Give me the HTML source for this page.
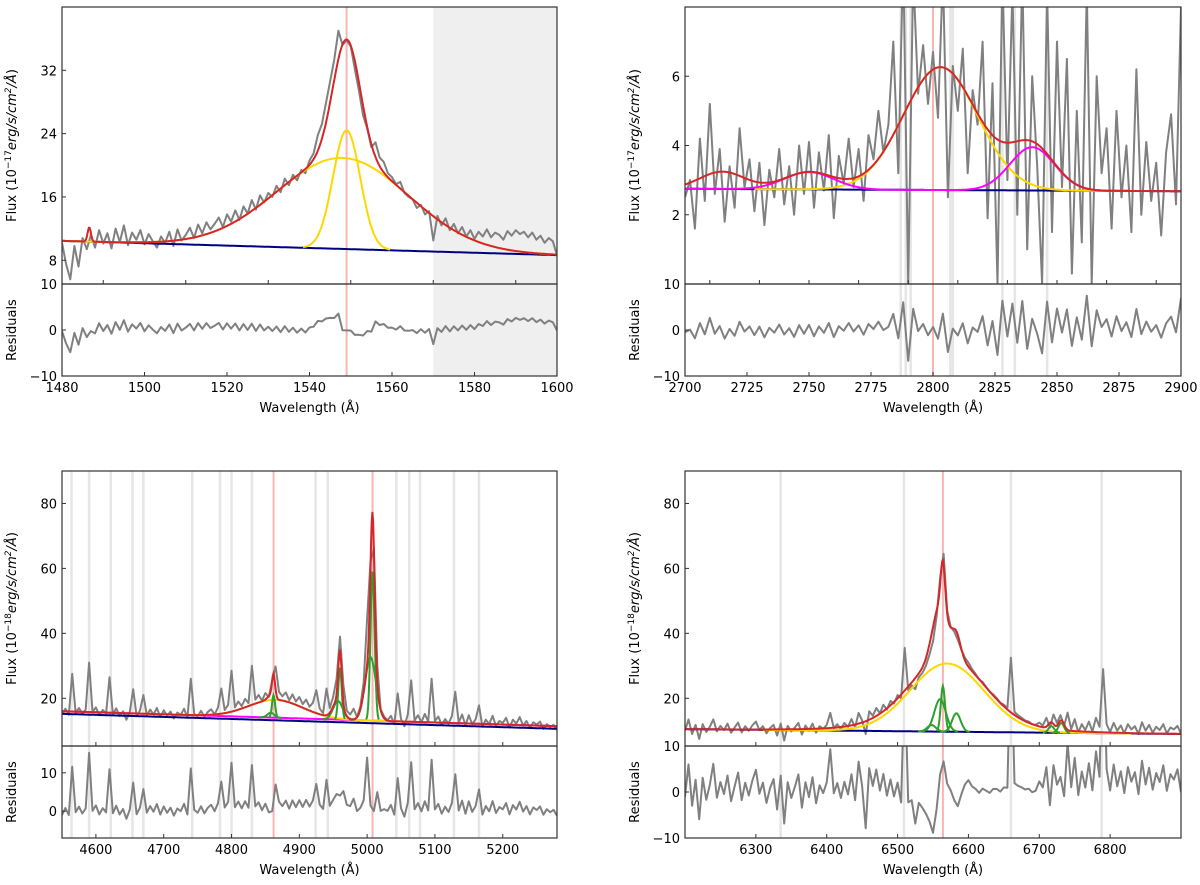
<!DOCTYPE html>
<html><head><meta charset="utf-8"><style>
html,body{margin:0;padding:0;background:#fff;}
svg{display:block;font-family:"DejaVu Sans","Liberation Sans",sans-serif;}
</style></head><body>
<svg id="fig" width="1200" height="885" viewBox="0 0 1200 885" xmlns="http://www.w3.org/2000/svg"></svg>
<script>
// ---------- Panel 1: C IV ----------
const p1Start = 1480, p1Step = 1;
const p1Flux = [10.2,7.5,5.6,9.8,7.2,10.8,9.4,11.2,9.6,11.8,10.1,11.4,9.5,12.0,10.3,12.4,9.9,11.5,10.6,11.8,
10.0,11.3,10.4,9.6,11.0,10.2,11.6,9.8,11.9,10.5,11.2,12.1,10.8,12.5,11.4,12.8,11.9,12.6,13.4,12.2,
13.8,12.9,14.3,13.1,14.8,13.9,15.6,14.4,16.2,15.3,16.5,16.0,17.4,16.6,18.3,17.5,18.8,18.1,19.4,19.0,
20.6,21.5,23.8,25.2,27.9,30.6,33.4,37.0,35.2,35.8,35.0,32.1,29.4,26.3,24.6,22.3,22.9,21.0,20.4,19.0,
18.5,17.6,17.9,16.5,16.0,15.7,14.6,15.0,13.8,14.2,10.5,13.6,12.4,13.3,11.8,12.6,11.4,12.2,11.0,11.8,
10.7,11.6,11.0,11.9,10.9,11.5,11.2,10.6,11.7,11.1,11.8,11.3,11.6,10.9,11.5,10.6,11.1,10.2,10.8,10.4,8.6];
const p1Cont = [10.45, 8.65];
const p1Centers = [1548, 1549, 1486.6];
const p1Amps = [11.5, 15, 1.8];
const p1Sigmas = [16, 3.3, 0.4];
const p1Kinds = ['yellow','yellow','hidden'];
const p1XTicks = [1480,1500,1520,1540,1560,1580,1600];
const p1XTicksMain = [1490,1510,1530,1550,1570,1590];
const p1YTicks = [8,16,24,32];
const p1RTicks = [-10,0,10];

// ---------- Panel 2: Mg II ----------
const p2Start = 2700, p2Step = 2;
const p2Flux = [2.5,3.0,1.6,4.2,2.4,5.2,2.6,3.9,1.8,3.4,2.2,4.5,2.8,3.6,2.1,3.5,1.7,3.3,2.5,3.9,
2.3,3.4,2.0,4.0,2.6,4.1,2.2,3.8,2.7,4.3,1.9,3.7,2.9,4.2,2.8,3.9,2.4,4.3,3.6,5.0,
3.8,4.6,7.0,3.2,9.5,0.0,9.0,5.5,6.9,5.2,6.7,4.8,9.0,2.5,6.3,5.0,6.8,3.2,5.6,4.6,
7.0,1.9,5.8,0.0,9.0,3.0,8.5,2.0,9.0,1.0,6.0,3.4,0.0,8.5,1.5,7.0,2.8,6.5,0.3,5.0,
1.2,8.5,0.0,6.0,3.2,4.5,1.6,5.0,2.5,4.0,1.5,6.2,2.0,4.1,2.4,3.5,1.4,3.8,4.9,2.3,8.0];
const p2Cont = [2.75, 2.68];
const p2Centers = [2803, 2840, 2750, 2715];
const p2Amps = [3.55, 1.25, 0.5, 0.5];
const p2Sigmas = [15, 9, 10, 9];
const p2Kinds = ['yellow','magenta','magenta','hidden'];
const p2XTicks = [2700,2725,2750,2775,2800,2825,2850,2875,2900];
const p2XTicksMain = [2710,2730,2750,2770,2790,2810,2830,2850,2870,2890];
const p2YTicks = [2,4,6];
const p2RTicks = [-10,0,10];
const p2Masks = [2787,2789,2791,2807,2808,2828,2833,2846];

// ---------- Panel 3: H beta ----------
const p3Start = 4550, p3Step = 5;
const p3Flux = [15.0,16.8,14.9,27.5,15.6,17.0,15.2,16.5,31.0,15.8,17.2,14.8,16.4,15.3,26.5,15.0,16.9,14.6,16.0,13.4,
15.8,22.8,14.5,16.2,21.0,14.8,16.5,15.0,17.0,14.2,16.3,14.6,15.9,13.8,15.6,14.9,16.8,14.0,26.0,15.2,
14.4,16.1,14.3,15.8,16.6,15.0,17.2,23.0,16.4,18.0,28.5,17.2,19.0,17.6,19.8,18.5,30.0,19.6,21.0,19.3,
21.6,20.4,25.5,29.8,22.0,20.6,21.8,19.4,21.2,19.0,20.4,18.2,19.6,17.4,18.6,22.5,16.8,15.4,23.0,17.0,
20.5,26.0,39.0,24.0,16.2,15.0,16.8,14.2,17.5,25.0,44.5,62.0,66.0,30.0,16.5,14.4,13.2,14.6,12.0,21.5,
13.6,11.4,15.0,25.5,13.2,14.8,12.6,15.2,12.8,26.0,13.0,14.4,11.8,13.6,12.2,14.5,22.0,12.5,15.0,11.6,
14.8,12.0,13.5,17.8,11.2,13.4,12.0,14.6,11.5,13.0,12.4,14.0,11.0,13.4,12.2,14.2,11.6,13.0,10.8,12.6,
11.9,12.8,10.6,12.0,11.2,11.8,10.2];
const p3Cont = [15.2, 10.6];
const p3Fe = [0.8];
const p3Centers = [4865, 4862, 4858, 4960, 4957, 5008, 5005];
const p3Amps = [5.5, 7, 1.5, 16, 5.7, 46, 19.5];
const p3Sigmas = [40, 2.2, 5, 2.5, 7, 3, 8];
const p3Kinds = ['yellow','green','green','green','green','green','green'];
const p3XTicks = [4600,4700,4800,4900,5000,5100,5200];
const p3YTicks = [20,40,60,80];
const p3RTicks = [0,10];
const p3Masks = [4564,4590,4622,4654,4670,4742,4783,4800,4830,4924,4942,5043,5062,5078,5128,5165];

// ---------- Panel 4: H alpha ----------
const p4Start = 6200, p4Step = 5;
const p4Flux = [10.0,13.5,9.0,11.8,7.5,12.0,9.6,11.2,13.5,9.8,11.5,10.2,12.2,9.4,11.0,12.5,9.5,11.4,10.0,11.6,
12.8,10.2,11.4,9.2,10.8,11.8,8.5,12.2,7.0,11.5,9.8,11.0,12.4,8.8,11.6,10.0,12.2,9.4,11.4,10.6,
11.8,15.5,10.8,12.0,10.5,12.4,11.2,13.6,11.0,15.5,13.2,9.0,16.0,14.6,17.0,15.4,18.0,16.5,19.2,18.4,
21.0,20.0,35.5,22.5,24.0,22.8,26.5,27.8,30.0,33.5,37.5,45.0,57.0,64.5,47.0,42.0,40.5,38.0,35.0,32.5,
31.0,29.0,27.5,25.8,25.0,23.5,22.0,21.2,20.0,18.6,18.0,17.0,32.5,15.8,14.8,14.0,13.2,12.8,12.0,11.8,
12.5,11.6,14.0,11.0,15.0,12.4,14.8,11.5,15.6,10.5,13.6,9.5,12.0,10.2,12.8,9.8,14.0,11.2,29.0,12.0,
9.6,12.4,10.0,11.6,9.2,12.0,10.4,11.4,9.0,12.6,10.0,11.8,9.4,11.2,10.2,12.0,9.2,11.0,10.4,11.5,9.0];
const p4Cont = [10.5, 9.0];
const p4Centers = [6570, 6570, 6564, 6564, 6560, 6583, 6548, 6717, 6731];
const p4Amps = [21, 2, 7, 14, 10, 5.7, 2, 2, 3];
const p4Sigmas = [52, 110, 14, 3, 8, 6, 6, 4, 4];
const p4Kinds = ['yellow','hidden','hidden','green','green','green','green','green','green'];
const p4XTicks = [6300,6400,6500,6600,6700,6800];
const p4YTicks = [20,40,60,80];
const p4RTicks = [-10,0,10];
const p4Masks = [6335,6509,6660,6788];

const NS = 'http://www.w3.org/2000/svg';
const svg = document.getElementById('fig');
const COLORS = {yellow:'#ffd700', magenta:'#ff00ff', green:'#2ca02c'};

function mk(tag, attrs, parent) {
  const e = document.createElementNS(NS, tag);
  for (const k in attrs) e.setAttribute(k, attrs[k]);
  (parent || svg).appendChild(e);
  return e;
}

let clipId = 0;
function panel(P) {
  const g = mk('g', {});
  
  
  const X = l => P.x0 + (l - P.xr[0]) / (P.xr[1] - P.xr[0]) * (P.x1 - P.x0);
  const Y = v => P.ySplit - (v - P.yr[0]) / (P.yr[1] - P.yr[0]) * (P.ySplit - P.yTop);
  const R = v => P.yBot - (v - P.rr[0]) / (P.rr[1] - P.rr[0]) * (P.yBot - P.ySplit);
  const cont = l => P.cont[0] + (P.cont[1] - P.cont[0]) * (l - P.xr[0]) / (P.xr[1] - P.xr[0]);
  const fe = P.fe ? P.fe[0] : 0;
  const gauss = (i, l) => P.amps[i] * Math.exp(-Math.pow(l - P.centers[i], 2) / (2 * P.sigmas[i] * P.sigmas[i]));
  const model = l => { let s = cont(l) + fe; for (let i = 0; i < P.centers.length; i++) s += gauss(i, l); return s; };

  const cm = 'c' + (clipId++), cr = 'c' + (clipId++);
  const defs = mk('defs', {}, g);
  const c1 = mk('clipPath', {id: cm}, defs);
  mk('rect', {x: P.x0, y: P.yTop, width: P.x1 - P.x0, height: P.ySplit - P.yTop}, c1);
  const c2 = mk('clipPath', {id: cr}, defs);
  mk('rect', {x: P.x0, y: P.ySplit, width: P.x1 - P.x0, height: P.yBot - P.ySplit}, c2);

  const gm = mk('g', {'clip-path': 'url(#' + cm + ')'}, g);
  const gr = mk('g', {'clip-path': 'url(#' + cr + ')'}, g);

  if (P.shade) {
    for (const gg of [gm, gr]) {
      const r = mk('rect', {x: X(P.shade[0]), y: P.yTop, width: X(P.shade[1]) - X(P.shade[0]), height: P.yBot - P.yTop, fill: '#efefef'}, gg);
      
      
    }
  }
  (P.masks || []).forEach(m => {
    for (const gg of [gm, gr]) {
      const ln = mk('line', {x1: X(m), x2: X(m), y1: P.yTop, y2: P.yBot, stroke: '#e6e6e6', 'stroke-width': 2.5}, gg);
      
      
    }
  });
  P.refs.forEach(m => {
    for (const gg of [gm, gr]) {
      const ln = mk('line', {x1: X(m), x2: X(m), y1: P.yTop, y2: P.yBot, stroke: '#f7b5b5', 'stroke-width': 2}, gg);
      
      
    }
  });

  let d = '', dr = '';
  P.flux.forEach((v, i) => {
    const l = P.start + i * P.step;
    d += (i ? 'L' : 'M') + X(l).toFixed(1) + ',' + Y(v).toFixed(1);
    dr += (i ? 'L' : 'M') + X(l).toFixed(1) + ',' + R((v - model(l)) * P.rscale).toFixed(1);
  });
  const sp = mk('path', {d: d, fill: 'none', stroke: '#808080', 'stroke-width': 2, 'stroke-linejoin': 'round'}, gm);
  
  

  const N = 700;
  const grid = []; for (let k = 0; k <= N; k++) grid.push(P.xr[0] + (P.xr[1] - P.xr[0]) * k / N);
  const pathOf = (f, lo, hi) => {
    let s = '', first = true;
    grid.forEach(l => { if (l < lo || l > hi) return; s += (first ? 'M' : 'L') + X(l).toFixed(1) + ',' + Y(f(l)).toFixed(1); first = false; });
    return s;
  };
  const cp = mk('path', {d: pathOf(cont, -1e9, 1e9), fill: 'none', stroke: '#000080', 'stroke-width': 2}, gm);
  
  
  if (P.fe) {
    const fp = mk('path', {d: pathOf(l => cont(l) + fe, -1e9, 1e9), fill: 'none', stroke: '#ff00ff', 'stroke-width': 2}, gm);
    
    
  }
  P.kinds.forEach((k, i) => {
    if (k === 'hidden') return;
    const w = (k === 'green' || P.sigmas[i] < 5) ? 3.2 : 5;
    const lo = P.centers[i] - w * P.sigmas[i], hi = P.centers[i] + w * P.sigmas[i];
    const cpth = mk('path', {d: pathOf(l => cont(l) + fe + gauss(i, l), lo, hi), fill: 'none', stroke: COLORS[k], 'stroke-width': 2}, gm);
    
    
  });
  const tp = mk('path', {d: pathOf(model, -1e9, 1e9), fill: 'none', stroke: '#d62728', 'stroke-width': 2}, gm);
  
  
  const rp = mk('path', {d: dr, fill: 'none', stroke: '#808080', 'stroke-width': 2, 'stroke-linejoin': 'round'}, gr);
  
  

  const f1 = mk('rect', {x: P.x0, y: P.yTop, width: P.x1 - P.x0, height: P.ySplit - P.yTop, fill: 'none', stroke: '#333', 'stroke-width': 1.2}, g);
  
  
  const f2 = mk('rect', {x: P.x0, y: P.ySplit, width: P.x1 - P.x0, height: P.yBot - P.ySplit, fill: 'none', stroke: '#333', 'stroke-width': 1.2}, g);
  
  

  const txt = (x, y, s, anchor, name) => {
    const t = mk('text', {x: x, y: y, 'font-size': 13, 'text-anchor': anchor, fill: '#000'}, g);
    t.textContent = s;
    
    
    return t;
  };
  const fmt = v => v < 0 ? '\u2212' + Math.abs(v) : String(v);
  P.xticks.forEach(v => {
    mk('line', {x1: X(v), x2: X(v), y1: P.yBot, y2: P.yBot - 4, stroke: '#333'}, g);
    txt(X(v), P.yBot + 16, fmt(v), 'middle', 'x-tick-label');
  });
  (P.xticksMain || P.xticks).forEach(v => {
    mk('line', {x1: X(v), x2: X(v), y1: P.ySplit, y2: P.ySplit - 4, stroke: '#333'}, g);
  });
  P.yticks.forEach(v => {
    mk('line', {x1: P.x0, x2: P.x0 + 4, y1: Y(v), y2: Y(v), stroke: '#333'}, g);
    txt(P.x0 - 5, Y(v) + 5, fmt(v), 'end', 'y-tick-label');
  });
  P.rticks.forEach(v => {
    mk('line', {x1: P.x0, x2: P.x0 + 4, y1: R(v), y2: R(v), stroke: '#333'}, g);
    txt(P.x0 - 5, R(v) + 5, fmt(v), 'end', 'residual-tick-label');
  });
  txt((P.x0 + P.x1) / 2, P.yBot + 36, 'Wavelength (\u00c5)', 'middle', 'x-axis-title');

  const ly = (P.yTop + P.ySplit) / 2, lx = P.x0 - 46;
  const yl = mk('text', {x: lx, y: ly, 'font-size': 13, 'text-anchor': 'middle', transform: 'rotate(-90 ' + lx + ' ' + ly + ')'}, g);
  
  
  const parts = [['Flux (10', ''], [P.exp, 'sup'], ['erg/s/cm', 'it'], ['2', 'supit'], ['/\u00c5', 'itdown'], [')', '']];
  parts.forEach(p => {
    const ts = mk('tspan', {}, yl);
    ts.textContent = p[0];
    if (p[1] === 'sup' || p[1] === 'supit') { ts.setAttribute('dy', -5); ts.setAttribute('font-size', 9); }
    if (p[1] === 'it') { ts.setAttribute('dy', 5); ts.setAttribute('font-style', 'italic'); }
    if (p[1] === 'supit') ts.setAttribute('font-style', 'italic');
    if (p[1] === 'itdown') { ts.setAttribute('dy', 5); ts.setAttribute('font-style', 'italic'); }
  });
  const ry = (P.ySplit + P.yBot) / 2;
  const rl = mk('text', {x: lx, y: ry, 'font-size': 13, 'text-anchor': 'middle', transform: 'rotate(-90 ' + lx + ' ' + ry + ')'}, g);
  rl.textContent = 'Residuals';
  
  
}

panel({name:'civ-panel', x0:62, x1:557, yTop:7, ySplit:284, yBot:376, xr:[1480,1600], yr:[5,40], rr:[-10,10],
  flux:p1Flux, start:p1Start, step:p1Step, cont:p1Cont, centers:p1Centers, amps:p1Amps, sigmas:p1Sigmas, kinds:p1Kinds,
  xticks:p1XTicks, xticksMain:p1XTicksMain, yticks:p1YTicks, rticks:p1RTicks, refs:[1549], shade:[1570,1600], rscale:1, exp:'\u221217'});
panel({name:'mgii-panel', x0:685, x1:1181, yTop:7, ySplit:284, yBot:376, xr:[2700,2900], yr:[0,8], rr:[-10,10],
  flux:p2Flux, start:p2Start, step:p2Step, cont:p2Cont, centers:p2Centers, amps:p2Amps, sigmas:p2Sigmas, kinds:p2Kinds,
  xticks:p2XTicks, xticksMain:p2XTicksMain, yticks:p2YTicks, rticks:p2RTicks, refs:[2800], masks:p2Masks, rscale:1.3, exp:'\u221217'});
panel({name:'hbeta-panel', x0:62, x1:557, yTop:471, ySplit:746, yBot:838, xr:[4550,5280], yr:[5.3,90], rr:[-7,17],
  flux:p3Flux, start:p3Start, step:p3Step, cont:p3Cont, fe:p3Fe, centers:p3Centers, amps:p3Amps, sigmas:p3Sigmas, kinds:p3Kinds,
  xticks:p3XTicks, yticks:p3YTicks, rticks:p3RTicks, refs:[4862,5008], masks:p3Masks, rscale:1, exp:'\u221218'});
panel({name:'halpha-panel', x0:685, x1:1181, yTop:471, ySplit:746, yBot:838, xr:[6200,6900], yr:[5.3,90], rr:[-10,10],
  flux:p4Flux, start:p4Start, step:p4Step, cont:p4Cont, centers:p4Centers, amps:p4Amps, sigmas:p4Sigmas, kinds:p4Kinds,
  xticks:p4XTicks, yticks:p4YTicks, rticks:p4RTicks, refs:[6564], masks:p4Masks, rscale:2, exp:'\u221218'});
</script>
</body></html>
